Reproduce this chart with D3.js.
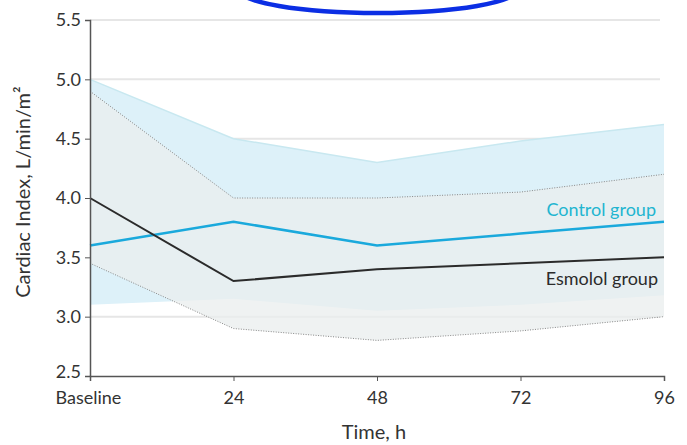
<!DOCTYPE html>
<html>
<head>
<meta charset="utf-8">
<script src="https://cdn.jsdelivr.net/npm/d3@7"></script>
<style>
body { margin: 0; background: #fff; }
text { font-family: Lato, "DejaVu Sans Condensed", sans-serif; }
</style>
</head>
<body>
<div class="canvas"></div>
<script>
var width = 687,
	height = 445;

// data
var timeLabels = ["Baseline", "24", "48", "72", "96"];
var hours = [0, 24, 48, 72, 96];
var yTicks = [2.5, 3.0, 3.5, 4.0, 4.5, 5.0, 5.5];

var controlMean = [3.6, 3.8, 3.6, 3.7, 3.8];
var controlUpper = [5.0, 4.5, 4.3, 4.48, 4.62];
var controlLower = [3.1, 3.15, 3.05, 3.1, 3.18];

var esmololMean = [4.0, 3.3, 3.4, 3.45, 3.5];
var esmololUpper = [4.9, 4.0, 4.0, 4.05, 4.2];
var esmololLower = [3.45, 2.9, 2.8, 2.88, 3.0];

var svg = d3.select(".canvas")
	.append("svg")
	.attr("width", width)
	.attr("height", height);

var x = d3.scaleLinear().domain([0, 96]).range([90, 664]);
var y = d3.scaleLinear().domain([2.5, 5.5]).range([376, 20]);

/* ---------- grid ---------- */
svg.append("g")
	.selectAll("line")
	.data(yTicks.slice(1))
	.enter().append("line")
	.attr("x1", x(0)).attr("x2", x(96) - 4)
	.attr("y1", function(d) { return y(d); })
	.attr("y2", function(d) { return y(d); })
	.attr("stroke", "#e6e6e6")
	.attr("stroke-width", 2);

/* ---------- bands ---------- */
function bandData(lo, hi) {
	return hours.map(function(h, i) { return { h: h, lo: lo[i], hi: hi[i] }; });
}
var area = d3.area()
	.x(function(d) { return x(d.h); })
	.y0(function(d) { return y(d.lo); })
	.y1(function(d) { return y(d.hi); });

var edge = function() {
	return d3.line().x(function(d, i) { return x(hours[i]); }).y(function(d) { return y(d); });
};

svg.append("path")
	.datum(bandData(controlLower, controlUpper))
	.attr("d", area)
	.attr("fill", "#ddf1f9");

svg.append("path")
	.datum(controlUpper)
	.attr("d", edge())
	.attr("fill", "none")
	.attr("stroke", "#c8e8f0")
	.attr("stroke-width", 1.5);

svg.append("path")
	.datum(bandData(esmololLower, esmololUpper))
	.attr("d", area)
	.attr("fill", "#eaedee")
	.attr("fill-opacity", 0.75);

[esmololUpper, esmololLower].forEach(function(b) {
	svg.append("path")
		.datum(b)
		.attr("d", edge())
		.attr("fill", "none")
		.attr("stroke", "#888")
		.attr("stroke-width", 1)
		.attr("stroke-dasharray", "1,1.5");
});

/* ---------- lines ---------- */
svg.append("path")
	.datum(controlMean)
	.attr("d", edge())
	.attr("fill", "none")
	.attr("stroke", "#1aa9dc")
	.attr("stroke-width", 2.5);

svg.append("path")
	.datum(esmololMean)
	.attr("d", edge())
	.attr("fill", "none")
	.attr("stroke", "#2b2b2b")
	.attr("stroke-width", 2);

svg.append("text")
	.attr("x", x(96) - 8).attr("y", y(3.8) - 6)
	.attr("text-anchor", "end")
	.attr("font-size", 18)
	.attr("fill", "#22b5d0")
	.text("Control group");

svg.append("text")
	.attr("x", x(96) - 6).attr("y", y(3.5) + 28)
	.attr("text-anchor", "end")
	.attr("font-size", 18)
	.attr("fill", "#2b2b2b")
	.text("Esmolol group");

/* ---------- axes ---------- */
var yAxis = svg.append("g")
	.attr("transform", "translate(" + x(0) + ",0)")
	.call(d3.axisLeft(y).tickValues(yTicks).tickFormat(d3.format(".1f")).tickSizeOuter(0).tickSize(5));

var xAxis = svg.append("g")
	.attr("transform", "translate(0," + y(2.5) + ")")
	.call(d3.axisBottom(x).tickValues(hours)
		.tickFormat(function(d, i) { return timeLabels[i]; })
		.tickSizeOuter(0).tickSize(5));

[yAxis, xAxis].forEach(function(a) {
	a.select(".domain").attr("stroke", "#555").attr("stroke-width", 1.5);
	a.selectAll(".tick line").attr("stroke", "#555");
	a.selectAll("text")
		.attr("font-family", "Lato, sans-serif")
		.attr("font-size", 18)
		.attr("fill", "#333");
});
yAxis.selectAll("text").attr("x", -9);
// nudge the lowest label up so it clears "Baseline"
yAxis.select(".tick text").attr("dy", "0.1em");
xAxis.selectAll("text").attr("y", 15);
xAxis.select(".tick text").attr("text-anchor", "start").attr("dx", -35);

svg.append("text")
	.attr("transform", "translate(30," + y(4.05) + ") rotate(-90)")
	.attr("text-anchor", "middle")
	.attr("font-size", 20)
	.attr("fill", "#333")
	.text("Cardiac Index, L/min/m²");

svg.append("text")
	.attr("x", 374).attr("y", 439)
	.attr("text-anchor", "middle")
	.attr("font-size", 20)
	.attr("fill", "#333")
	.text("Time, h");

/* ---------- annotation ring ---------- */
svg.append("ellipse")
	.attr("cx", 378).attr("cy", -11)
	.attr("rx", 140).attr("ry", 24)
	.attr("fill", "none")
	.attr("stroke", "#0b2ee4")
	.attr("stroke-width", 4.5);
</script>
</body>
</html>
